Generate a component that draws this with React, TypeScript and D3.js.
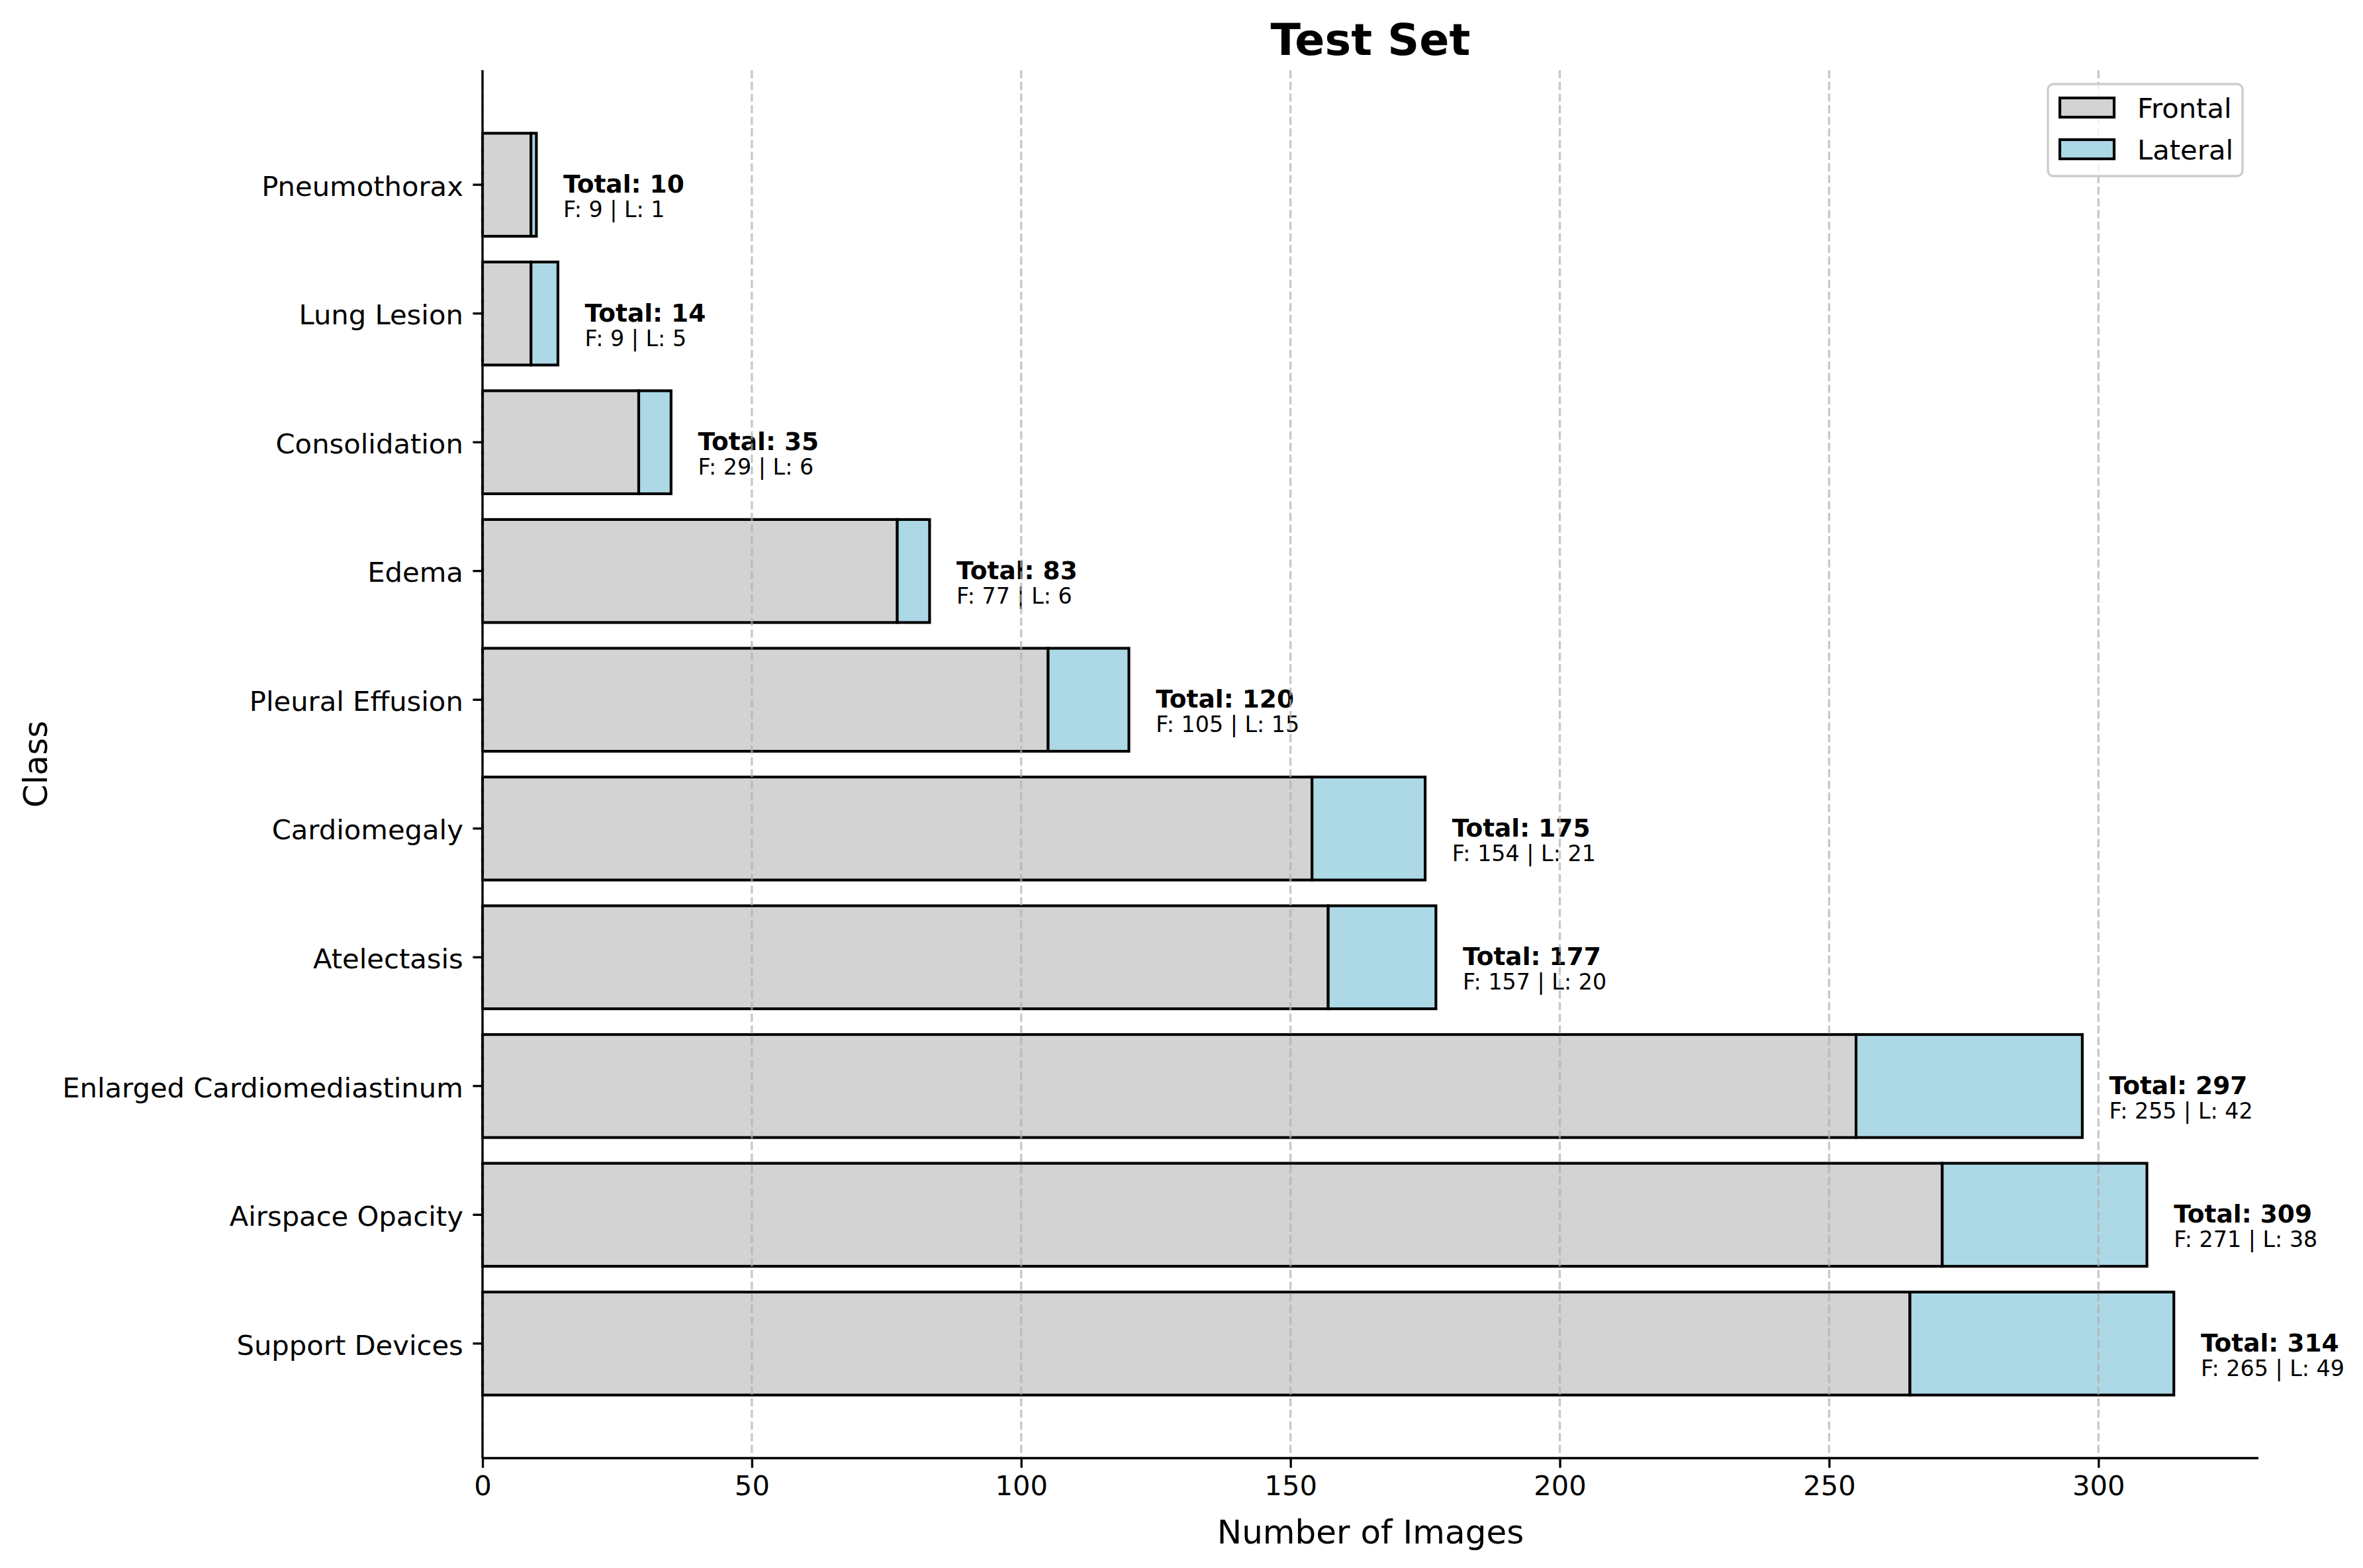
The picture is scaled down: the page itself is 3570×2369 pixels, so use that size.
import { useEffect, useRef } from 'react';
import * as d3 from 'd3';

const CLASSES = [
    'Support Devices',
    'Airspace Opacity',
    'Enlarged Cardiomediastinum',
    'Atelectasis',
    'Cardiomegaly',
    'Pleural Effusion',
    'Edema',
    'Consolidation',
    'Lung Lesion',
    'Pneumothorax',
];
const FRONTAL = [265, 271, 255, 157, 154, 105, 77, 29, 9, 9];
const LATERAL = [49, 38, 42, 20, 21, 15, 6, 6, 5, 1];
const X_TICKS = [0, 50, 100, 150, 200, 250, 300];
const SERIES = ['Frontal', 'Lateral'];

const COLORS = { Frontal: '#d3d3d3', Lateral: '#add8e6' };
const FONT = '"DejaVu Sans", sans-serif';

export default function App() {
    const svgRef = useRef<SVGSVGElement>(null);

    useEffect(() => {
        document.body.style.margin = '0';
        if (!svgRef.current) return;
        const width = 3570;
        const height = 2369;

        d3.select(svgRef.current).selectAll('*').remove();

        const svg = d3
            .select(svgRef.current)
            .attr('width', width)
            .attr('height', height)
            .style('display', 'block')
            .style('background', '#fff');

        const plot = { left: 729, right: 3412, top: 106, bottom: 2203 };

        const data = CLASSES.map((c, i) => ({
            name: c,
            f: FRONTAL[i],
            l: LATERAL[i],
            total: FRONTAL[i] + LATERAL[i],
        }));
        const maxTotal = d3.max(data, (d) => d.total)!;

        // Scales
        const x = d3
            .scaleLinear()
            .domain([0, maxTotal * 1.05])
            .range([plot.left, plot.right]);

        const y = d3
            .scaleBand()
            .domain([...CLASSES].reverse())
            .range([plot.top, plot.bottom])
            .paddingInner(0.2)
            .paddingOuter(0.49);

        const barStroke = 4.17;
        const lw = 3.33;

        // Bars
        const rows = svg.append('g').selectAll('g').data(data).enter().append('g');

        rows.append('rect')
            .attr('x', x(0))
            .attr('y', (d) => y(d.name)!)
            .attr('width', (d) => x(d.f) - x(0))
            .attr('height', y.bandwidth())
            .attr('fill', COLORS.Frontal)
            .attr('stroke', '#000')
            .attr('stroke-width', barStroke);

        rows.append('rect')
            .attr('x', (d) => x(d.f))
            .attr('y', (d) => y(d.name)!)
            .attr('width', (d) => x(d.total) - x(d.f))
            .attr('height', y.bandwidth())
            .attr('fill', COLORS.Lateral)
            .attr('stroke', '#000')
            .attr('stroke-width', barStroke);

        // Grid lines (drawn over bars)
        svg.append('g')
            .selectAll('line')
            .data(X_TICKS)
            .enter()
            .append('line')
            .attr('x1', (d) => x(d))
            .attr('x2', (d) => x(d))
            .attr('y1', plot.top)
            .attr('y2', plot.bottom)
            .attr('stroke', '#b0b0b0')
            .attr('stroke-opacity', 0.7)
            .attr('stroke-width', lw)
            .attr('stroke-dasharray', '12.3,5.3');

        // Value labels
        rows.append('text')
            .attr('x', (d) => x(d.total + 5))
            .attr('y', (d) => y(d.name)! + y.bandwidth() / 2 + 12)
            .attr('font-family', FONT)
            .attr('font-size', 37.5)
            .attr('font-weight', 'bold')
            .attr('fill', '#000')
            .text((d) => `Total: ${d.total}`);

        rows.append('text')
            .attr('x', (d) => x(d.total + 5))
            .attr('y', (d) => y(d.name)! + y.bandwidth() / 2 + 49)
            .attr('font-family', FONT)
            .attr('font-size', 33.3)
            .attr('fill', '#000')
            .text((d) => `F: ${d.f} | L: ${d.l}`);

        // Axes
        const xAxis = svg
            .append('g')
            .attr('transform', `translate(0, ${plot.bottom})`)
            .call(d3.axisBottom(x).tickValues(X_TICKS).tickSize(14.6).tickSizeOuter(0).tickPadding(12));
        xAxis.select('.domain').attr('stroke-width', lw).attr('d', `M${plot.left},0H${plot.right}`);
        xAxis.selectAll('.tick line').attr('stroke-width', lw);
        xAxis.selectAll('.tick text')
            .attr('font-family', FONT)
            .attr('font-size', 41.7)
            .attr('fill', '#000');

        const yAxis = svg
            .append('g')
            .attr('transform', `translate(${plot.left}, 0)`)
            .call(d3.axisLeft(y).tickSize(14.6).tickSizeOuter(0).tickPadding(14.6));
        yAxis.select('.domain').attr('stroke-width', lw).attr('d', `M0,${plot.top}V${plot.bottom}`);
        yAxis.selectAll('.tick line').attr('stroke-width', lw);
        yAxis.selectAll('.tick text')
            .attr('font-family', FONT)
            .attr('font-size', 41.7)
            .attr('dy', '0.4em')
            .attr('fill', '#000');

        // Title and axis labels
        svg.append('text')
            .attr('x', (plot.left + plot.right) / 2)
            .attr('y', 83)
            .attr('text-anchor', 'middle')
            .attr('font-family', FONT)
            .attr('font-size', 66.7)
            .attr('font-weight', 'bold')
            .text('Test Set');

        svg.append('text')
            .attr('x', (plot.left + plot.right) / 2)
            .attr('y', 2332)
            .attr('text-anchor', 'middle')
            .attr('font-family', FONT)
            .attr('font-size', 50)
            .text('Number of Images');

        svg.append('text')
            .attr('transform', `translate(71, ${(plot.top + plot.bottom) / 2}) rotate(-90)`)
            .attr('text-anchor', 'middle')
            .attr('font-family', FONT)
            .attr('font-size', 50)
            .text('Class');

        // Legend
        const legend = svg.append('g');
        legend.append('rect')
            .attr('x', 3094)
            .attr('y', 127)
            .attr('width', 294)
            .attr('height', 139)
            .attr('rx', 8)
            .attr('fill', '#fff')
            .attr('fill-opacity', 0.8)
            .attr('stroke', '#cccccc')
            .attr('stroke-width', lw);

        const items = legend.selectAll('.item').data(SERIES).enter().append('g')
            .attr('transform', (_d, i) => `translate(0, ${i * 63})`);
        items.append('rect')
            .attr('x', 3112)
            .attr('y', 148)
            .attr('width', 82)
            .attr('height', 29)
            .attr('fill', (d) => COLORS[d as keyof typeof COLORS])
            .attr('stroke', '#000')
            .attr('stroke-width', barStroke);
        items.append('text')
            .attr('x', 3229)
            .attr('y', 178)
            .attr('font-family', FONT)
            .attr('font-size', 41.7)
            .text((d) => d);
    }, []);

    return (
        <div className="chart">
            <svg ref={svgRef}></svg>
        </div>
    );
}
